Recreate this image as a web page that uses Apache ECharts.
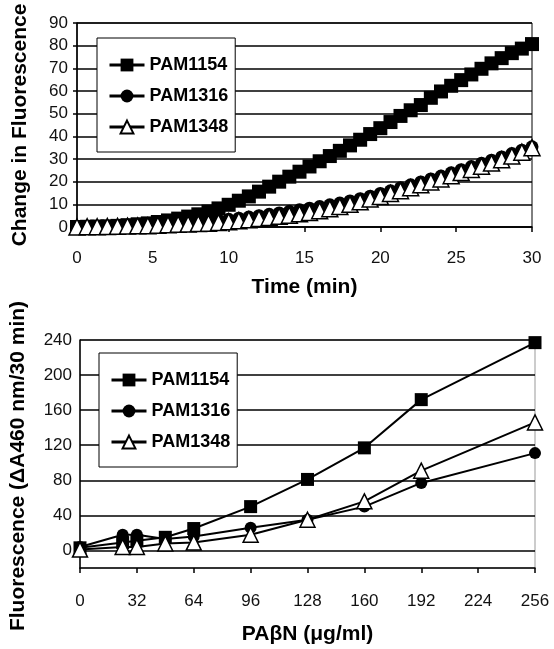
<!DOCTYPE html>
<html>
<head>
<meta charset="utf-8">
<script src="https://cdn.jsdelivr.net/npm/echarts@6/dist/echarts.min.js"></script>
<style>
    html, body { margin: 0; padding: 0; background: #fff; }
    #chart { width: 554px; height: 649px; }
</style>
</head>
<body>
<div id="chart"></div>
<script>
// top panel: change in fluorescence over time, one reading every 40 s
const timeMin = [0.00, 0.67, 1.33, 2.00, 2.67, 3.33, 4.00, 4.67, 5.33, 6.00,
    6.67, 7.33, 8.00, 8.67, 9.33, 10.00, 10.67, 11.33, 12.00, 12.67,
    13.33, 14.00, 14.67, 15.33, 16.00, 16.67, 17.33, 18.00, 18.67, 19.33,
    20.00, 20.67, 21.33, 22.00, 22.67, 23.33, 24.00, 24.67, 25.33, 26.00,
    26.67, 27.33, 28.00, 28.67, 29.33, 30.00];
const pam1154Time = [0.0, 0.1, 0.2, 0.3, 0.5, 0.8, 1.2, 1.6, 2.2, 2.9,
    3.7, 4.6, 5.6, 6.8, 8.2, 9.8, 11.6, 13.5, 15.6, 17.8,
    20.0, 22.2, 24.4, 26.7, 29.0, 31.3, 33.6, 36.0, 38.5, 41.0,
    43.6, 46.3, 49.0, 51.5, 53.8, 57.0, 59.8, 62.3, 64.8, 67.3,
    69.8, 72.2, 74.5, 76.7, 78.7, 80.7];
const pam1316Time = [0.0, 0.1, 0.2, 0.3, 0.4, 0.5, 0.7, 0.9, 1.1, 1.3,
    1.6, 1.9, 2.2, 2.6, 3.0, 3.4, 3.9, 4.4, 5.0, 5.6,
    6.2, 6.9, 7.6, 8.3, 9.0, 9.8, 10.6, 11.5, 12.5, 13.6,
    14.8, 16.0, 17.3, 18.6, 19.9, 21.2, 22.5, 23.9, 25.3, 26.7,
    28.1, 29.5, 30.9, 32.4, 33.9, 35.4];
const pam1348Time = [0.0, 0.1, 0.1, 0.2, 0.3, 0.4, 0.5, 0.6, 0.8, 1.0,
    1.2, 1.3, 1.5, 1.7, 2.0, 2.3, 2.8, 3.2, 3.7, 4.2,
    4.7, 5.2, 5.8, 6.4, 7.2, 8.1, 9.0, 10.0, 11.1, 12.3,
    13.5, 14.8, 16.0, 17.3, 18.6, 19.9, 21.2, 22.6, 24.0, 25.4,
    26.8, 28.2, 29.7, 31.3, 33.0, 35.0];

// bottom panel: fluorescence vs PAβN concentration
const pabnDose = [0, 24, 32, 48, 64, 96, 128, 160, 192, 256];
const pam1154Dose = [3, 9, 11, 15, 25, 50, 81, 117, 172, 237];
const pam1316Dose = [4, 18, 18, 13, 16, 26, 35, 50, 77, 111];
const pam1348Dose = [1, 4, 4, 8, 9, 18, 35, 56, 91, 146];

const strainNames = ['PAM1154', 'PAM1316', 'PAM1348'];

const chart = echarts.init(document.getElementById('chart'), null, { renderer: 'canvas' });

const FONT = 'Liberation Sans, Arial, sans-serif';

const pairs = (xs, ys) => xs.map((x, i) => [x, ys[i]]);

const makeSeries = (grid, name, xs, ys, symbol, size, lw) => ({
    name: name,
    type: 'line',
    xAxisIndex: grid,
    yAxisIndex: grid,
    data: pairs(xs, ys),
    symbol: symbol,
    symbolSize: size,
    showAllSymbol: true,
    animation: false,
    lineStyle: { color: '#000', width: lw },
    itemStyle: symbol === 'triangle'
        ? { color: '#fff', borderColor: '#000', borderWidth: 1.5 }
        : { color: '#000', borderColor: '#000', borderWidth: 0 },
    emphasis: { disabled: true }
});

const legendBox = (left, top) => ({
    left: left,
    top: top,
    orient: 'vertical',
    data: strainNames,
    backgroundColor: '#fff',
    borderColor: '#000',
    borderWidth: 1,
    padding: [18, 7, 16, 11],
    itemWidth: 35,
    itemHeight: 16,
    itemGap: 13,
    selectedMode: false,
    lineStyle: { width: 3 },
    textStyle: { fontFamily: FONT, fontSize: 18, fontWeight: 'bold', color: '#000' }
});

const axisText = { fontFamily: FONT, fontSize: 17, color: '#111' };
const nameText = { fontFamily: FONT, fontSize: 21, fontWeight: 'bold', color: '#000' };

const option = {
    backgroundColor: '#fff',
    animation: false,
    grid: [
        { left: 77, right: 22, top: 23, height: 204, show: true, borderColor: '#000', borderWidth: 1 },
        { left: 80, right: 19, top: 340, height: 228, show: true, borderColor: '#999', borderWidth: 1 }
    ],
    legend: [legendBox(97, 38), legendBox(99, 353)],
    xAxis: [
        {
            gridIndex: 0, type: 'value', min: 0, max: 30, interval: 5,
            name: 'Time (min)', nameLocation: 'middle', nameGap: 50, nameTextStyle: nameText,
            axisLine: { lineStyle: { color: '#000', width: 1.5 } },
            axisTick: { show: true, length: 5, lineStyle: { color: '#000', width: 1.5 } },
            axisLabel: Object.assign({ margin: 23 }, axisText),
            splitLine: { show: false }
        },
        {
            gridIndex: 1, type: 'value', min: 0, max: 256, interval: 32,
            name: 'PAβN (μg/ml)', nameLocation: 'middle', nameGap: 56, nameTextStyle: nameText,
            axisLine: { onZero: false, lineStyle: { color: '#000', width: 1.5 } },
            axisTick: { show: true, length: 5, lineStyle: { color: '#000', width: 1.5 } },
            axisLabel: Object.assign({ margin: 25 }, axisText),
            splitLine: { show: false }
        }
    ],
    yAxis: [
        {
            gridIndex: 0, type: 'value', min: 0, max: 90, interval: 10,
            name: 'Change in Fluorescence', nameLocation: 'middle', nameGap: 46, nameTextStyle: nameText,
            axisLine: { show: true, lineStyle: { color: '#000', width: 1.5 } },
            axisTick: { show: true, length: 4, lineStyle: { color: '#000', width: 1.5 } },
            axisLabel: Object.assign({ margin: 9 }, axisText),
            splitLine: { show: true, lineStyle: { color: '#000', width: 1.5 } }
        },
        {
            gridIndex: 1, type: 'value', min: -20, max: 240, interval: 20,
            name: 'Fluorescence (ΔA460 nm/30 min)', nameLocation: 'middle', nameGap: 51,
            nameTextStyle: Object.assign({ padding: [0, 24, 0, 0] }, nameText),
            axisLine: { show: true, onZero: false, lineStyle: { color: '#000', width: 1.5 } },
            axisTick: { show: false },
            axisLabel: Object.assign({
                margin: 8,
                formatter: (v) => (v >= 0 && v % 40 === 0 ? String(v) : '')
            }, axisText),
            // gridlines only every 40 units: the colour list alternates invisible/black
            splitLine: { show: true, lineStyle: { color: ['rgba(0,0,0,0)', '#000'], width: 1.5 } }
        }
    ],
    series: [
        makeSeries(0, 'PAM1154', timeMin, pam1154Time, 'rect', 14, 1.5),
        makeSeries(0, 'PAM1316', timeMin, pam1316Time, 'circle', 13, 1.5),
        makeSeries(0, 'PAM1348', timeMin, pam1348Time, 'triangle', 16, 1.5),
        makeSeries(1, 'PAM1154', pabnDose, pam1154Dose, 'rect', 13, 2),
        makeSeries(1, 'PAM1316', pabnDose, pam1316Dose, 'circle', 12, 2),
        makeSeries(1, 'PAM1348', pabnDose, pam1348Dose, 'triangle', 15, 2)
    ]
};

chart.setOption(option);
</script>
</body>
</html>
